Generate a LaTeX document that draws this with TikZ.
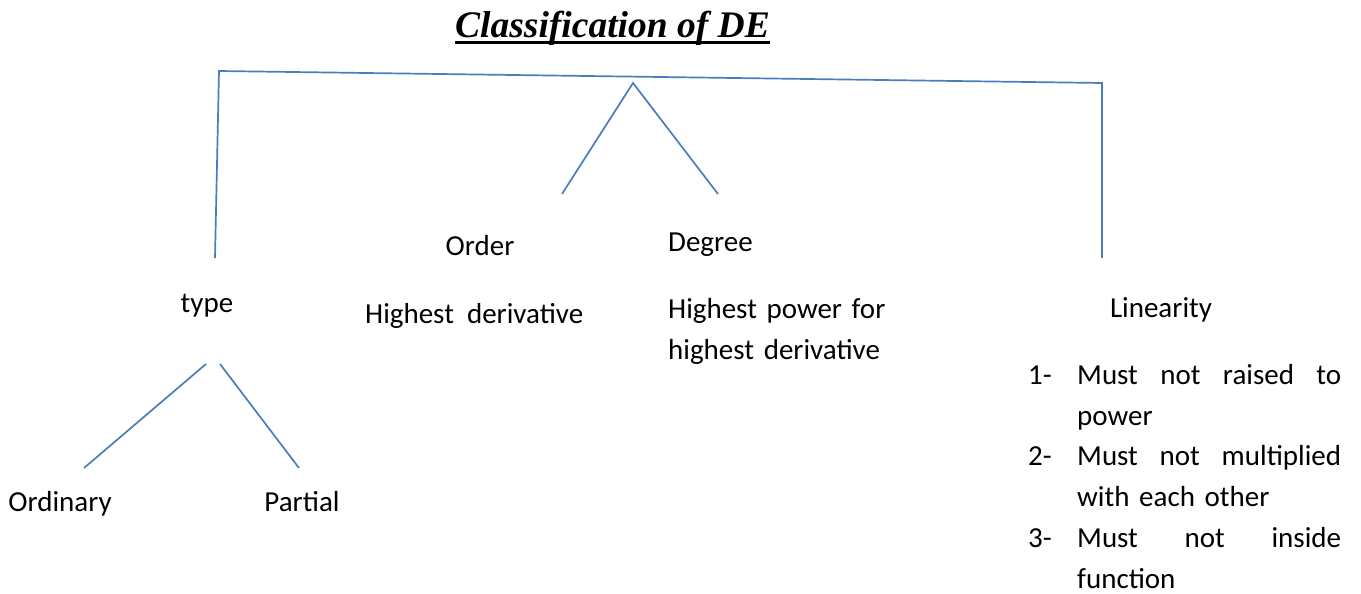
\documentclass[tikz,border=0pt]{standalone}
\usepackage{fontspec}
\setmainfont{Carlito}
\newfontfamily\titlefont{Liberation Serif}
\usetikzlibrary{positioning}
\definecolor{deblue}{RGB}{74,126,187}
\newcommand{\ulbar}[1]{\setbox0\hbox{#1}\rlap{\rule[-6pt]{\wd0}{2.6pt}}\box0}

\begin{document}
\begin{tikzpicture}[
    x=1pt, y=-1pt,
    lbl/.style={font=\fontsize{29}{41}\selectfont, inner sep=0pt, anchor=base},
    itemtext/.style={lbl, anchor=base west, text width=264pt, align=left},
    branch/.style={draw=deblue, line width=1.7pt}
]
\useasboundingbox (0,0) rectangle (1361,594);

% Title
\node[anchor=base west, inner sep=0pt, font=\titlefont\fontsize{37.5}{44}\selectfont\bfseries\itshape] (title) at (455,38) {\ulbar{Classification of DE}};

% Labels
\node[lbl] (type) at (207,312) {type};
\node[lbl] (order) at (480,255) {Order};
\node[lbl, anchor=base west] (degree) at (668,251) {Degree};
\node[lbl] (lin) at (1161,317) {Linearity};
\node[lbl, anchor=base west] (orddef) at (365,323) {Highest\ \ derivative};
\node[lbl, anchor=base west, text width=260pt, align=left] (degdef) at (668,318) {Highest power for\\highest derivative};
\node[lbl] (ord) at (60,511) {Ordinary};
\node[lbl] (par) at (302,511) {Partial};

% Linearity conditions
\node[lbl, anchor=base west] (n1) at (1028,384) {1-};
\node[itemtext] (c1) at (1077,384) {Must\hfill not\hfill raised\hfill to\\power};
\node[lbl, anchor=base west] (n2) at (1028,465) {2-};
\node[itemtext] (c2) at (1077,465) {Must\hfill not\hfill multiplied\\with each other};
\node[lbl, anchor=base west] (n3) at (1028,547) {3-};
\node[itemtext] (c3) at (1077,547) {Must\hfill not\hfill inside\\function};

% Branch points
\coordinate (topl) at (219,71);
\coordinate (topr) at (1102,83);
\coordinate (typetop) at (215,258);
\coordinate (lintop) at (1102,258);
\coordinate (apex) at (633,83);
\coordinate (orderend) at (562,194);
\coordinate (degreeend) at (718,194);
\coordinate (typel) at (206,364);
\coordinate (typer) at (220,364);
\coordinate (ordend) at (84,468);
\coordinate (parend) at (299,468);

% Branches
\draw[branch] (typetop) -- (topl) -- (topr) -- (lintop);
\draw[branch] (orderend) -- (apex) -- (degreeend);
\draw[branch] (typel) -- (ordend);
\draw[branch] (typer) -- (parend);

\end{tikzpicture}
\end{document}
